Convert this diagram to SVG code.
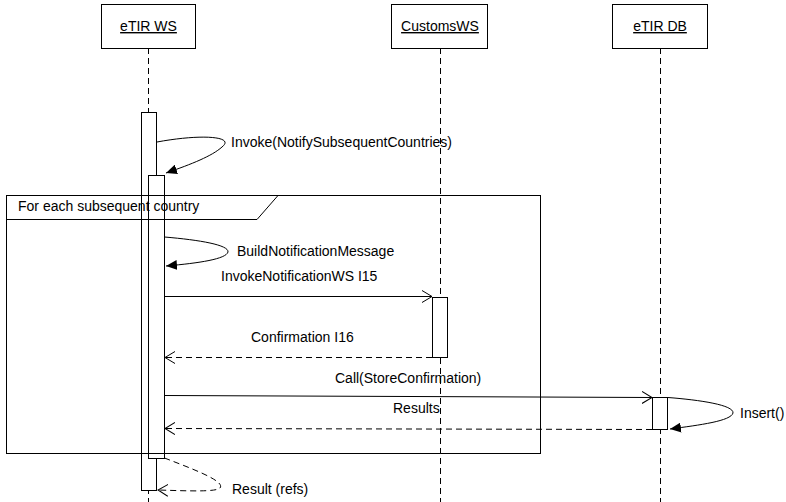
<svg xmlns="http://www.w3.org/2000/svg" width="786" height="502" viewBox="0 0 786 502">
<style>
text{font-family:"Liberation Sans",Arial,sans-serif;font-size:14px;fill:#000}
.hd{text-decoration:underline;text-anchor:middle}
.box{fill:#fff;stroke:#000;stroke-width:1}
.life{stroke:#000;stroke-width:1;stroke-dasharray:6,4;fill:none}
.act{fill:#fff;stroke:#000;stroke-width:1}
.msg{stroke:#000;stroke-width:1;fill:none}
.ret{stroke:#000;stroke-width:1;fill:none;stroke-dasharray:6,4}
.frame{fill:none;stroke:#000;stroke-width:1}
</style>
<defs>
<marker id="fill" markerWidth="12" markerHeight="10" refX="11" refY="5" orient="auto" markerUnits="userSpaceOnUse">
<path d="M0,0 L11,5 L0,10 z" fill="#000"/>
</marker>
<marker id="open" markerWidth="12" markerHeight="14" refX="10" refY="7" orient="auto" markerUnits="userSpaceOnUse">
<path d="M0,1 L10,7 L0,13" fill="none" stroke="#000" stroke-width="1"/>
</marker>
</defs>
<g id="lifelines">
<line class="life" x1="148.5" y1="48" x2="148.5" y2="502"/>
<line class="life" x1="440.5" y1="48" x2="440.5" y2="502"/>
<line class="life" x1="660.5" y1="48" x2="660.5" y2="502"/>
</g>
<g id="eTIRWS">
<rect class="box" x="101.5" y="4.5" width="94" height="44"/>
<text class="hd" x="148.5" y="31">eTIR WS</text>
</g>
<g id="CustomsWS">
<rect class="box" x="391.5" y="4.5" width="96" height="44"/>
<text class="hd" x="440" y="31">CustomsWS</text>
</g>
<g id="eTIRDB">
<rect class="box" x="612.5" y="4.5" width="95" height="44"/>
<text class="hd" x="660" y="31">eTIR DB</text>
</g>
<g id="activations">
<rect class="act" x="141.5" y="112.5" width="15" height="378"/>
<rect class="act" x="148.5" y="175.5" width="16" height="283"/>
<rect class="act" x="432.5" y="297.5" width="15" height="60"/>
<rect class="act" x="652.5" y="397.5" width="15" height="32"/>
</g>
<g id="frame">
<rect class="frame" x="6.5" y="195.5" width="534" height="258"/>
<path class="frame" d="M6.5,219.5 L257,219.5 L278,195.5"/>
<text x="18" y="211">For each subsequent country</text>
</g>
<g id="connectors">
<path class="msg" d="M157,142 C200,134 236,136 222,147 C212,156 192,164 166,173" marker-end="url(#fill)"/>
<path class="msg" d="M164.5,237 C200,240 229,245 228,252 C226,259 200,263 166,266" marker-end="url(#fill)"/>
<line class="msg" x1="164.5" y1="296.5" x2="432" y2="296.5" marker-end="url(#open)"/>
<line class="ret" x1="432" y1="357.5" x2="165" y2="357.5" marker-end="url(#open)"/>
<line class="msg" x1="164.5" y1="395.5" x2="652" y2="397.5" marker-end="url(#open)"/>
<path class="msg" d="M668,397.5 C700,400 734,405 733,413 C731,421 700,425 670,429" marker-end="url(#fill)"/>
<line class="ret" x1="652" y1="429.5" x2="165" y2="428.5" marker-end="url(#open)"/>
<path class="ret" d="M164.5,458 C190,468 226,481 220,488 C216,492 190,491 158,490" marker-end="url(#open)"/>
</g>
<g id="labels">
<text x="231" y="147">Invoke(NotifySubsequentCountries)</text>
<text x="237" y="256">BuildNotificationMessage</text>
<text x="221" y="281">InvokeNotificationWS I15</text>
<text x="251" y="342">Confirmation I16</text>
<text x="335" y="383">Call(StoreConfirmation)</text>
<text x="393" y="413">Results</text>
<text x="740" y="418">Insert()</text>
<text x="232" y="494">Result (refs)</text>
</g>
</svg>
